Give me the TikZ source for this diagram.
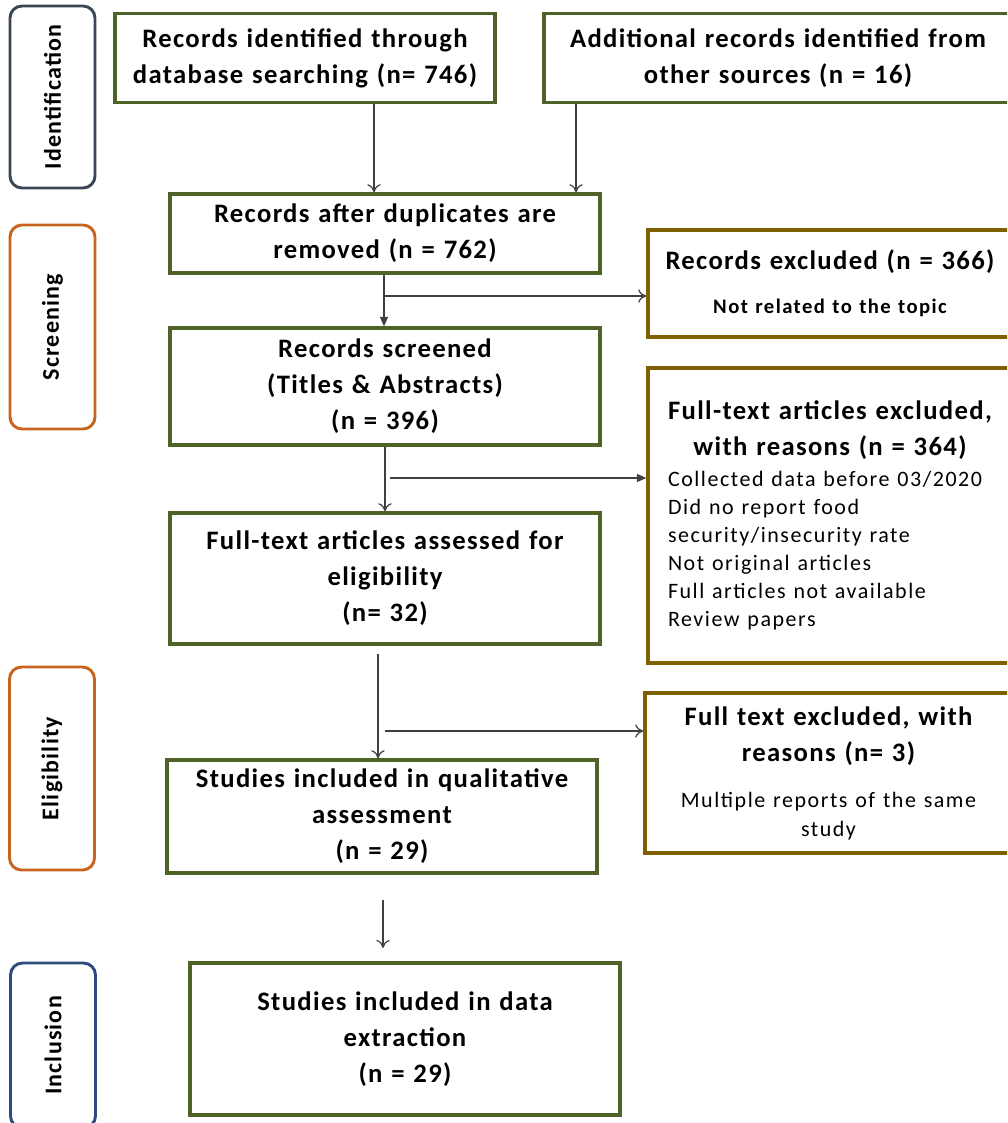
\documentclass[tikz,border=0pt]{standalone}
\usepackage{fontspec}
\setmainfont[LetterSpace=5, WordSpace=1.2]{Carlito}
\newfontfamily\wideFont[LetterSpace=7, WordSpace=1.2]{Carlito}
\usetikzlibrary{positioning,arrows.meta,calc}
\definecolor{boxGreen}{HTML}{4F6228}
\definecolor{boxGold}{HTML}{7F6000}
\definecolor{phaseOrange}{HTML}{C8641E}
\definecolor{phaseSlate}{HTML}{3B4656}
\definecolor{phaseBlue}{HTML}{2F4B7C}
\definecolor{arrowGray}{HTML}{404040}
\newcommand\headText{\bfseries\fontsize{20}{27}\selectfont}
\newcommand\phaseText{\bfseries\fontsize{18}{22}\selectfont}
\newcommand\subText{\wideFont\bfseries\fontsize{15.5}{24}\selectfont}
\newcommand\bodyText{\wideFont\mdseries\fontsize{16.5}{21.5}\selectfont}
\newcommand\reason[1]{\makebox[243pt][l]{\bodyText #1}}
\tikzset{
  stage/.style={rectangle, draw=boxGreen, line width=2.6pt, fill=white, align=center, font=\headText, inner sep=2pt},
  excluded/.style={rectangle, draw=boxGold, line width=2.6pt, fill=white, align=center, font=\headText, inner sep=2pt},
  phase/.style={rectangle, rounded corners=9pt, draw=#1, line width=2.2pt, rotate=90, font=\phaseText, minimum height=63.75pt},
  flowArrow/.style={draw=arrowGray, line width=0.9pt, -{To[length=6pt,width=10pt]}},
  solidArrow/.style={draw=arrowGray, line width=0.9pt, -{Triangle[length=7pt,width=6pt]}}
}

\begin{document}
\begin{tikzpicture}[x=0.75pt, y=-0.75pt]
  \useasboundingbox (0,0) rectangle (1007,1123);
  \clip (0,0) rectangle (1007,1123);

  % phases
  \node[phase=phaseSlate, minimum width=136.5pt] (ident) at (52.5,97) {Identification};
  \node[phase=phaseOrange, minimum width=153pt] (screen) at (52.5,327) {Screening};
  \node[phase=phaseOrange, minimum width=152.25pt] (elig) at (52,768.5) {Eligibility};
  \node[phase=phaseBlue, minimum width=123.75pt] (incl) at (53,1045.5) {Inclusion};

  % main flow
  \node[stage, minimum width=285pt, minimum height=66.75pt] (dbRecords) at (305,58)
    {Records identified through\\ database searching (n= 746)};
  \node[stage, minimum width=351pt, minimum height=66.75pt] (otherRecords) at (778,58)
    {Additional records identified from\\ other sources (n = 16)};
  \node[stage, minimum width=322.5pt, minimum height=59.25pt] (dedup) at (385,233.5)
    {Records after duplicates are\\ removed (n = 762)};
  \node[stage, minimum width=322.5pt, minimum height=87.75pt] (screened) at (385,386.5)
    {Records screened\\ (Titles \& Abstracts)\\ (n = 396)};
  \node[stage, minimum width=322.5pt, minimum height=98.25pt] (assessed) at (385,578.5)
    {Full-text articles assessed for\\ eligibility\\ (n= 32)};
  \node[stage, minimum width=322.5pt, minimum height=84.75pt] (qualitative) at (382,816.5)
    {Studies included in qualitative\\ assessment\\ (n = 29)};
  \node[stage, minimum width=322.5pt, minimum height=114pt] (extraction) at (405,1039)
    {Studies included in data\\ extraction\\ (n = 29)};

  % exclusions
  \node[excluded, minimum width=273pt, minimum height=80.25pt] (recExcl) at (830,283.5)
    {Records excluded (n = 366)\\[6pt] {\subText Not related to the topic}};
  \node[excluded, minimum width=273pt, minimum height=221.25pt] (fullExcl) at (830,515.5)
    {Full-text articles excluded,\\ with reasons (n = 364)\\[-4pt]
     \reason{Collected data before 03/2020}\\[-6pt] \reason{Did no report food}\\[-6pt]
     \reason{security/insecurity rate}\\[-6pt] \reason{Not original articles}\\[-6pt]
     \reason{Full articles not available}\\[-6pt] \reason{Review papers}};
  \node[excluded, minimum width=275.25pt, minimum height=120pt] (textExcl) at (828.5,773)
    {Full text excluded, with\\ reasons (n= 3)\\[7.5pt]
     {\bodyText Multiple reports of the same}\\[-5.25pt] {\bodyText study}};

  % connectors
  \coordinate (colA) at (374,0);
  \coordinate (colB) at (576,0);
  \coordinate (colC) at (384,0);
  \coordinate (colD) at (385,0);
  \coordinate (colE) at (378,0);
  \coordinate (split1) at (385,296);
  \coordinate (split2) at (390,478);
  \coordinate (split3) at (385,731);
  \coordinate (gapTop) at (383,900);

  \draw[flowArrow] (dbRecords.south -| colA) -- (dedup.north -| colA);
  \draw[flowArrow] (otherRecords.south -| colB) -- (dedup.north -| colB);
  \draw[solidArrow] (dedup.south -| colC) -- (screened.north -| colC);
  \draw[flowArrow] (split1) -- (split1 -| recExcl.west);
  \draw[flowArrow] (screened.south -| colD) -- (assessed.north -| colD);
  \draw[solidArrow] (split2) -- (split2 -| fullExcl.west);
  \draw[flowArrow] (assessed.south -| colE) ++(0,8) -- (qualitative.north -| colE);
  \draw[flowArrow] (split3) -- (split3 -| textExcl.west);
  \draw[flowArrow, shorten >=10pt] (gapTop) -- (gapTop |- extraction.north);
\end{tikzpicture}
\end{document}
